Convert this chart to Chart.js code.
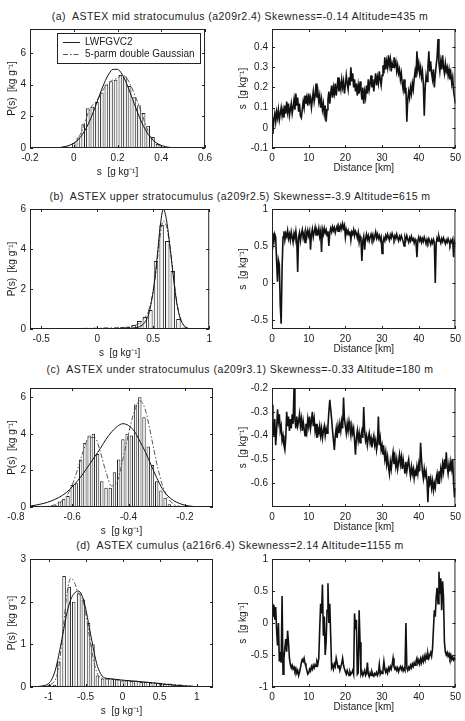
<!DOCTYPE html>
<html lang="en">
<head>
<meta charset="UTF-8">
<title>ASTEX s PDFs and flight-leg series</title>
<script src="https://cdn.jsdelivr.net/npm/chart.js"></script>
<style>
  body { margin: 0; background: #fff; font-family: "Liberation Sans", Arial, sans-serif; }
  #page { position: relative; width: 465px; height: 721px; overflow: hidden; background: #fff; }
  #page canvas { position: absolute; }
  .ttl { position: absolute; left: 0; width: 480px; text-align: center; font-size: 10.5px; letter-spacing: 0.45px; line-height: 12px; color: #222; white-space: nowrap; }
</style>
</head>
<body>
<div id="page">
  <div class="ttl" style="top:10px">(a)&nbsp; ASTEX mid stratocumulus (a209r2.4) Skewness=-0.14 Altitude=435 m</div>
  <div class="ttl" style="top:190px">(b)&nbsp; ASTEX upper stratocumulus (a209r2.5) Skewness=-3.9 Altitude=615 m</div>
  <div class="ttl" style="top:363px">(c)&nbsp; ASTEX under stratocumulus (a209r3.1) Skewness=-0.33 Altitude=180 m</div>
  <div class="ttl" style="top:539px">(d)&nbsp; ASTEX cumulus (a216r6.4) Skewness=2.14 Altitude=1155 m</div>
</div>
<script>
// ---- histogram panels: bin centres [g/kg] and P(s) [kg/g] ----
const binsA = [0.000,0.021,0.043,0.064,0.085,0.106,0.128,0.149,0.170,0.191,0.213,0.234,0.255,0.277,0.298,0.319,0.340,0.362,0.383];
const histA = [0.3,0.66,1.5,2.5,2.6,2.9,3.5,4.0,4.2,4.3,4.6,4.5,3.9,3.2,2.7,2.2,1.4,0.7,0.25];
const gridA = [-0.2,-0.1,-0.05,0,0.02,0.04,0.06,0.08,0.10,0.12,0.14,0.16,0.18,0.20,0.22,0.24,0.26,0.28,0.30,0.32,0.34,0.36,0.38,0.42,0.46,0.6];
const lwfA  = [0,0.01,0.06,0.30,0.52,0.86,1.34,1.94,2.66,3.41,4.11,4.66,4.96,4.96,4.66,4.11,3.41,2.66,1.94,1.34,0.86,0.52,0.30,0.08,0.02,0];
const dgA   = [0,0.01,0.05,0.3,0.6,1.2,2.0,2.6,2.9,3.3,3.8,4.1,4.3,4.4,4.6,4.45,3.95,3.3,2.6,1.8,1.05,0.55,0.25,0.05,0.01,0];

const binsB = [0.025,0.075,0.125,0.175,0.225,0.275,0.325,0.375,0.425,0.475,0.525,0.575,0.625,0.675,0.725,0.775];
const histB = [0.03,0.08,0.05,0.06,0.1,0.1,0.2,0.4,0.6,0.95,3.4,5.2,4.4,2.9,0.5,0.08];
const gridB = [-0.6,-0.3,0,0.2,0.3,0.38,0.42,0.46,0.5,0.53,0.56,0.59,0.62,0.65,0.68,0.71,0.74,0.77,0.8,0.85,1.0];
const lwfB  = [0,0,0.01,0.02,0.04,0.12,0.3,0.75,1.9,3.3,5.0,6.0,5.4,4.1,2.6,1.3,0.55,0.2,0.06,0.01,0];
const dgB   = [0.01,0.02,0.04,0.07,0.12,0.3,0.55,0.95,1.9,3.1,4.6,5.4,5.1,4.1,2.7,1.4,0.6,0.2,0.05,0.01,0];

const binsC = [-0.660,-0.645,-0.630,-0.615,-0.600,-0.585,-0.570,-0.555,-0.540,-0.525,-0.510,-0.495,-0.480,-0.465,
               -0.450,-0.435,-0.420,-0.405,-0.390,-0.375,-0.360,-0.345,-0.330,-0.315,-0.300,-0.285,-0.270,-0.255];
const histC = [0.1,0.3,0.45,0.6,1.2,1.3,2.6,3.5,3.9,4.0,2.9,1.4,1.05,1.05,
               1.9,2.6,3.7,4.0,3.9,5.6,6.0,4.9,3.3,2.3,1.4,0.9,0.5,0.15];
const gridC = [-0.75,-0.70,-0.65,-0.62,-0.60,-0.58,-0.56,-0.54,-0.52,-0.50,-0.48,-0.46,-0.44,-0.42,-0.40,-0.38,-0.36,-0.34,-0.32,-0.30,-0.28,-0.26,-0.24,-0.22,-0.20,-0.17,-0.10];
const lwfC  = [0.05,0.2,0.5,0.8,1.1,1.45,1.85,2.3,2.75,3.2,3.7,4.1,4.4,4.55,4.45,4.15,3.6,3.0,2.3,1.6,1.0,0.6,0.35,0.2,0.1,0.03,0];
const dgC   = [0,0.02,0.2,0.6,1.2,2.1,3.1,3.8,3.8,3.0,1.9,1.15,1.4,2.6,4.0,5.2,5.8,5.3,3.9,2.4,1.2,0.5,0.15,0.04,0.01,0,0];

const binsD = [-1.05,-0.99,-0.92,-0.86,-0.79,-0.72,-0.66,-0.59,-0.53,-0.46,-0.40,-0.34,-0.27,-0.21,-0.14,
               -0.08,-0.01,0.05,0.12,0.18,0.25,0.31,0.38,0.44,0.51,0.57,0.64,0.70,0.77,0.83];
const histD = [0.03,0.05,0.05,0.6,2.6,2.35,2.0,2.2,2.05,1.5,1.0,0.27,0.2,0.2,0.2,
               0.18,0.15,0.15,0.14,0.15,0.12,0.12,0.1,0.1,0.08,0.07,0.07,0.05,0.05,0.03];
const gridD = [-1.25,-1.1,-1.0,-0.95,-0.9,-0.85,-0.8,-0.75,-0.7,-0.65,-0.6,-0.55,-0.5,-0.45,-0.4,-0.35,-0.3,-0.25,-0.2,-0.1,0,0.2,0.4,0.6,0.8,1.0,1.22];
const lwfD  = [0,0.02,0.08,0.2,0.45,0.85,1.3,1.75,2.05,2.2,2.25,2.15,1.85,1.4,0.95,0.55,0.32,0.22,0.2,0.18,0.16,0.13,0.1,0.06,0.03,0.01,0];
const dgD   = [0,0.01,0.03,0.08,0.2,0.6,1.4,2.2,2.55,2.45,2.2,2.1,1.75,1.2,0.7,0.35,0.22,0.2,0.19,0.17,0.16,0.13,0.1,0.07,0.04,0.01,0];

// ---- flight-leg series: s [g/kg] every 0.25 km from 0 to 50 km ----
const stepKm = 0.25;
const serA = [
  0.05,-0.03,0.04,0.07,0.03,0.08,0.05,0.09,0.04,0.07,0.10,0.06,0.09,0.05,0.11,0.07,0.13,0.08,0.12,0.06,
  0.09,0.12,0.07,0.10,0.14,0.09,0.17,0.11,0.15,0.08,0.12,0.06,0.05,0.09,0.13,0.10,0.16,0.12,0.15,0.11,
  0.17,0.13,0.15,0.10,0.14,0.18,0.13,0.16,0.22,0.15,0.18,0.13,0.16,0.10,0.14,0.09,0.12,0.07,0.11,0.03,
  0.09,0.14,0.18,0.12,0.17,0.21,0.15,0.20,0.17,0.22,0.16,0.20,0.25,0.18,0.22,0.19,0.24,0.20,0.23,0.17,
  0.21,0.26,0.22,0.19,0.25,0.21,0.30,0.23,0.27,0.20,0.24,0.18,0.22,0.16,0.21,0.17,0.23,0.19,0.14,0.20,
  0.12,0.18,0.15,0.21,0.17,0.24,0.19,0.22,0.26,0.20,0.24,0.18,0.23,0.27,0.21,0.25,0.22,0.28,0.24,0.21,
  0.26,0.31,0.27,0.35,0.29,0.33,0.30,0.36,0.31,0.34,0.28,0.32,0.30,0.35,0.31,0.33,0.28,0.31,0.27,0.29,
  0.24,0.27,0.22,0.19,0.24,0.17,0.20,0.03,0.14,0.18,0.15,0.20,0.17,0.22,0.19,0.24,0.28,0.25,0.38,0.29,
  0.32,0.27,0.30,0.25,0.28,0.22,0.06,0.20,0.26,0.23,0.30,0.38,0.28,0.33,0.27,0.24,0.29,0.20,0.26,0.31,
  0.35,0.44,0.32,0.28,0.33,0.29,0.36,0.30,0.27,0.32,0.28,0.30,0.26,0.29,0.24,0.27,0.22,0.25,0.18,0.15,
  0.12];
const serB = [
  0.60,0.68,0.55,0.66,0.62,0.30,0.02,0.31,0.25,-0.30,-0.55,0.20,0.62,0.70,0.58,0.67,0.63,0.71,0.60,0.66,
  0.58,0.69,0.62,0.55,0.67,0.61,0.70,0.58,0.15,0.62,0.68,0.57,0.66,0.72,0.61,0.67,0.55,0.69,0.63,0.71,
  0.64,0.70,0.45,0.66,0.73,0.62,0.69,0.75,0.65,0.71,0.67,0.74,0.63,0.70,0.42,0.72,0.66,0.74,0.68,0.72,
  0.64,0.70,0.50,0.68,0.74,0.69,0.76,0.71,0.75,0.68,0.73,0.77,0.70,0.76,0.72,0.78,0.73,0.80,0.74,0.78,
  0.62,0.72,0.67,0.71,0.65,0.70,0.58,0.69,0.66,0.72,0.64,0.70,0.67,0.61,0.68,0.55,0.63,0.58,0.30,0.57,
  0.63,0.45,0.60,0.66,0.59,0.64,0.57,0.62,0.66,0.60,0.65,0.58,0.63,0.69,0.61,0.66,0.60,0.64,0.58,0.62,
  0.40,0.55,0.61,0.57,0.64,0.60,0.66,0.62,0.58,0.65,0.61,0.67,0.63,0.59,0.64,0.60,0.66,0.61,0.57,0.63,
  0.59,0.64,0.60,0.56,0.50,0.62,0.58,0.64,0.59,0.55,0.61,0.57,0.63,0.58,0.60,0.54,0.59,0.55,0.35,0.57,
  0.62,0.57,0.61,0.55,0.60,0.56,0.62,0.58,0.53,0.59,0.55,0.60,0.56,0.52,0.58,0.54,0.59,0.55,0.00,0.53,
  0.61,0.57,0.63,0.58,0.54,0.60,0.56,0.61,0.57,0.53,0.58,0.55,0.60,0.56,0.52,0.58,0.55,0.59,0.35,0.56,
  0.52];
const serC = [
  -0.27,-0.35,-0.40,-0.33,-0.44,-0.38,-0.29,-0.34,-0.31,-0.38,-0.36,-0.42,-0.40,-0.44,-0.46,-0.41,-0.30,-0.36,-0.32,-0.38,
  -0.33,-0.37,-0.31,-0.35,-0.20,-0.33,-0.37,-0.32,-0.36,-0.34,-0.31,-0.36,-0.33,-0.38,-0.34,-0.37,-0.40,-0.35,-0.38,-0.33,
  -0.36,-0.32,-0.37,-0.34,-0.30,-0.36,-0.33,-0.38,-0.35,-0.41,-0.37,-0.39,-0.36,-0.40,-0.37,-0.41,-0.38,-0.36,-0.40,-0.37,
  -0.39,-0.36,-0.30,-0.25,-0.29,-0.33,-0.38,-0.42,-0.46,-0.40,-0.37,-0.41,-0.36,-0.39,-0.35,-0.38,-0.34,-0.37,-0.24,-0.33,
  -0.36,-0.39,-0.35,-0.38,-0.34,-0.37,-0.40,-0.36,-0.39,-0.37,-0.42,-0.48,-0.41,-0.38,-0.42,-0.39,-0.43,-0.40,-0.38,-0.41,
  -0.28,-0.38,-0.42,-0.40,-0.44,-0.41,-0.39,-0.43,-0.41,-0.45,-0.42,-0.40,-0.44,-0.42,-0.46,-0.43,-0.32,-0.44,-0.41,-0.46,
  -0.44,-0.48,-0.46,-0.50,-0.47,-0.52,-0.49,-0.53,-0.56,-0.51,-0.54,-0.50,-0.47,-0.52,-0.49,-0.53,-0.50,-0.54,-0.51,-0.48,
  -0.52,-0.49,-0.54,-0.50,-0.53,-0.56,-0.51,-0.55,-0.52,-0.50,-0.54,-0.57,-0.53,-0.56,-0.54,-0.58,-0.55,-0.57,-0.53,-0.56,
  -0.52,-0.55,-0.43,-0.50,-0.55,-0.58,-0.54,-0.57,-0.55,-0.59,-0.68,-0.57,-0.60,-0.58,-0.62,-0.59,-0.63,-0.60,-0.62,-0.58,
  -0.56,-0.60,-0.55,-0.58,-0.54,-0.57,-0.52,-0.55,-0.50,-0.54,-0.47,-0.53,-0.56,-0.52,-0.55,-0.51,-0.54,-0.50,-0.60,-0.66,
  -0.62];
const serD = [
  0.30,0.10,0.28,0.05,0.25,-0.10,-0.35,0.00,-0.60,-0.45,-0.62,0.42,-0.80,-0.55,-0.40,-0.25,-0.45,-0.12,-0.30,-0.55,
  -0.65,-0.70,-0.66,-0.72,-0.69,-0.75,-0.71,-0.78,-0.74,-0.82,-0.77,-0.70,-0.62,-0.57,-0.60,-0.55,-0.63,-0.68,-0.74,-0.80,
  -0.78,-0.72,-0.75,-0.68,-0.72,-0.66,-0.70,-0.65,-0.68,-0.60,-0.64,-0.55,-0.10,0.30,0.15,0.60,-0.20,0.10,-0.50,-0.30,
  0.20,0.62,0.00,0.30,-0.20,-0.70,-0.66,-0.72,-0.64,-0.68,-0.55,-0.62,-0.70,-0.66,-0.74,-0.69,-0.63,-0.55,-0.66,-0.72,
  -0.76,-0.80,-0.74,-0.78,-0.82,-0.76,-0.80,-0.78,-0.74,-0.80,0.15,-0.10,0.05,-0.80,-0.78,0.20,-0.30,-0.80,-0.76,-0.82,
  -0.78,-0.74,-0.82,-0.79,-0.62,-0.80,-0.84,-0.78,-0.82,-0.76,-0.80,-0.83,-0.79,-0.81,-0.77,-0.82,-0.78,-0.65,-0.80,-0.76,
  -0.79,-0.74,-0.60,-0.72,-0.77,-0.73,-0.78,-0.70,-0.74,-0.68,-0.72,-0.65,-0.55,-0.68,-0.72,-0.69,-0.74,-0.70,-0.76,-0.71,
  -0.68,-0.73,-0.69,-0.75,-0.71,-0.74,0.00,-0.70,-0.74,-0.69,-0.72,-0.66,-0.70,-0.64,-0.68,-0.62,-0.66,-0.60,-0.55,-0.63,
  -0.58,-0.64,-0.56,-0.62,-0.54,-0.60,-0.52,-0.58,-0.50,-0.56,-0.48,-0.55,-0.50,-0.46,-0.52,-0.40,-0.10,0.20,0.10,0.40,
  0.55,0.30,0.80,0.45,0.70,0.20,0.65,0.40,-0.30,-0.45,-0.50,-0.46,-0.52,-0.48,-0.55,-0.50,-0.57,-0.53,-0.58,-0.55,
  -0.58];

// ---- tick labels ----
const ticksPdfY   = [0, 2, 4, 6];
const ticksPdfYd  = [0, 1, 2, 3];
const ticksXA = [-0.2, 0, 0.2, 0.4, 0.6];
const ticksXB = [-0.5, 0, 0.5, 1];
const ticksXC = [-0.8, -0.6, -0.4, -0.2];
const ticksXD = [-1, -0.5, 0, 0.5, 1];
const ticksKm = [0, 10, 20, 30, 40, 50];
const ticksSA = [-0.1, 0, 0.1, 0.2, 0.3, 0.4];
const ticksSB = [-0.5, 0, 0.5, 1];
const ticksSC = [-0.6, -0.5, -0.4, -0.3, -0.2];
const ticksSD = [-1, -0.5, 0, 0.5, 1];

const font = { family: '"Liberation Sans", Arial, sans-serif', size: 10 };
const ink = '#1a1a1a';
const pdfTitle = 'P(s)  [kg g\u207B\u00B9]';
const sTitle = 's  [g kg\u207B\u00B9]';

// box round the plot with MATLAB-style inward ticks on all four sides
const boxTicks = {
  id: 'boxTicks',
  afterDraw(chart) {
    const { ctx, chartArea: a, scales: { x, y } } = chart;
    ctx.save();
    ctx.strokeStyle = '#222';
    ctx.lineWidth = 1;
    ctx.strokeRect(a.left + 0.5, a.top + 0.5, a.right - a.left - 1, a.bottom - a.top - 1);
    ctx.beginPath();
    x.ticks.forEach(t => {
      if (t.value < x.min || t.value > x.max) return;
      const px = Math.round(x.getPixelForValue(t.value)) + 0.5;
      ctx.moveTo(px, a.bottom); ctx.lineTo(px, a.bottom - 3);
      ctx.moveTo(px, a.top); ctx.lineTo(px, a.top + 3);
    });
    y.ticks.forEach(t => {
      if (t.value < y.min || t.value > y.max) return;
      const py = Math.round(y.getPixelForValue(t.value)) + 0.5;
      ctx.moveTo(a.left, py); ctx.lineTo(a.left + 3, py);
      ctx.moveTo(a.right, py); ctx.lineTo(a.right - 3, py);
    });
    ctx.stroke();
    ctx.restore();
  }
};

// legend box of panel (a)
const legendBox = {
  id: 'legendBox',
  afterDraw(chart) {
    const { ctx, chartArea: a } = chart;
    const l = a.left + 27, t = a.top + 4, w = 143, h = 30;
    ctx.save();
    ctx.fillStyle = '#fff';
    ctx.fillRect(l, t, w, h);
    ctx.strokeStyle = '#222';
    ctx.lineWidth = 1;
    ctx.strokeRect(l + 0.5, t + 0.5, w, h);
    ctx.beginPath();
    ctx.moveTo(l + 6, t + 9.5); ctx.lineTo(l + 23, t + 9.5);
    ctx.stroke();
    ctx.setLineDash([5, 2, 1.5, 2]);
    ctx.strokeStyle = '#555';
    ctx.beginPath();
    ctx.moveTo(l + 6, t + 21.5); ctx.lineTo(l + 23, t + 21.5);
    ctx.stroke();
    ctx.fillStyle = ink;
    ctx.font = '10px "Liberation Sans", Arial, sans-serif';
    ctx.textBaseline = 'middle';
    ctx.fillText('LWFGVC2', l + 28, t + 9.5);
    ctx.fillText('5-parm double Gaussian', l + 28, t + 21.5);
    ctx.restore();
  }
};

function fixedTicks(values) {
  return s => { s.ticks = values.map(v => ({ value: v })); };
}

function xAxis(min, max, ticks, title, titlePad) {
  return {
    type: 'linear', min, max, offset: false,
    grid: { display: false, drawTicks: false, offset: false }, border: { display: false },
    afterBuildTicks: fixedTicks(ticks),
    afterFit: s => { s.height = 34; },
    ticks: { autoSkip: false, maxRotation: 0, font, color: ink, padding: 4, callback: v => String(v) },
    title: { display: true, text: title, font, color: ink, padding: { top: 0, bottom: titlePad } }
  };
}

function yAxis(min, max, ticks, title, width, titlePad) {
  return {
    type: 'linear', min, max,
    grid: { display: false, drawTicks: false }, border: { display: false },
    afterBuildTicks: fixedTicks(ticks),
    afterFit: s => { s.width = width; },
    ticks: { autoSkip: false, font, color: ink, padding: 4, callback: v => String(v) },
    title: { display: true, text: title, font, color: ink, padding: { top: titlePad, bottom: 0 } }
  };
}

function baseOptions(padRight, x, y) {
  return {
    responsive: false, animation: false, devicePixelRatio: 1,
    layout: { autoPadding: false, padding: { top: 6, right: padRight, left: 0, bottom: 0 } },
    plugins: { legend: { display: false }, tooltip: { enabled: false } },
    scales: { x, y }
  };
}

function histConfig(bins, heights, grid, lwf, dg, x, y, plugins) {
  return {
    type: 'bar',
    data: {
      datasets: [
        { type: 'line', data: grid.map((g, i) => ({ x: g, y: lwf[i] })), borderColor: '#111', borderWidth: 1,
          pointRadius: 0, cubicInterpolationMode: 'monotone', order: 1 },
        { type: 'line', data: grid.map((g, i) => ({ x: g, y: dg[i] })), borderColor: '#555', borderWidth: 1,
          borderDash: [5, 2, 1.5, 2], pointRadius: 0, cubicInterpolationMode: 'monotone', order: 1 },
        { type: 'bar', data: bins.map((b, i) => ({ x: b, y: heights[i] })), backgroundColor: '#f2f2f2',
          borderColor: '#222', borderWidth: 1, barPercentage: 0.8, categoryPercentage: 1, order: 2 }
      ]
    },
    options: baseOptions(3, x, y),
    plugins: [boxTicks].concat(plugins || [])
  };
}

function seriesConfig(vals, y) {
  return {
    type: 'line',
    data: { datasets: [{ data: vals.map((v, i) => ({ x: i * stepKm, y: v })), borderColor: '#111',
      borderWidth: 1.6, pointRadius: 0, tension: 0 }] },
    options: baseOptions(8, xAxis(0, 50, ticksKm, 'Distance [km]', 8), y),
    plugins: [boxTicks]
  };
}

function panel(left, top, w, h, cfg) {
  const cv = document.createElement('canvas');
  cv.width = w; cv.height = h;
  cv.style.left = left + 'px'; cv.style.top = top + 'px';
  cv.style.width = w + 'px'; cv.style.height = h + 'px';
  document.getElementById('page').appendChild(cv);
  return new Chart(cv, cfg);
}

const sUnit = 's  [g kg\u207B\u00B9]';

// row (a)
panel(0, 19, 216, 163, histConfig(binsA, histA, gridA, lwfA, dgA,
  xAxis(-0.2, 0.6, ticksXA, sUnit, 4), yAxis(0, 7.5, ticksPdfY, pdfTitle, 30, 6), [legendBox]));
panel(232, 19, 233, 163, seriesConfig(serA, yAxis(-0.1, 0.49, ticksSA, sTitle, 40, 5)));
// row (b)
panel(0, 199, 216, 164, histConfig(binsB, histB, gridB, lwfB, dgB,
  xAxis(-0.6, 1, ticksXB, sUnit, 4), yAxis(0, 6, ticksPdfY, pdfTitle, 30, 6)));
panel(232, 199, 233, 164, seriesConfig(serB, yAxis(-0.62, 1, ticksSB, sTitle, 40, 5)));
// row (c)
panel(0, 378, 216, 163, histConfig(binsC, histC, gridC, lwfC, dgC,
  xAxis(-0.75, -0.1, ticksXC, sUnit, 4), yAxis(0, 6.5, ticksPdfY, pdfTitle, 30, 6)));
panel(232, 378, 233, 163, seriesConfig(serC, yAxis(-0.7, -0.2, ticksSC, sTitle, 40, 5)));
// row (d)
panel(0, 549, 216, 172, histConfig(binsD, histD, gridD, lwfD, dgD,
  xAxis(-1.25, 1.22, ticksXD, sUnit, 4), yAxis(0, 3, ticksPdfYd, pdfTitle, 30, 6)));
panel(232, 549, 233, 172, seriesConfig(serD, yAxis(-1, 1, ticksSD, sTitle, 40, 5)));
</script>
</body>
</html>
